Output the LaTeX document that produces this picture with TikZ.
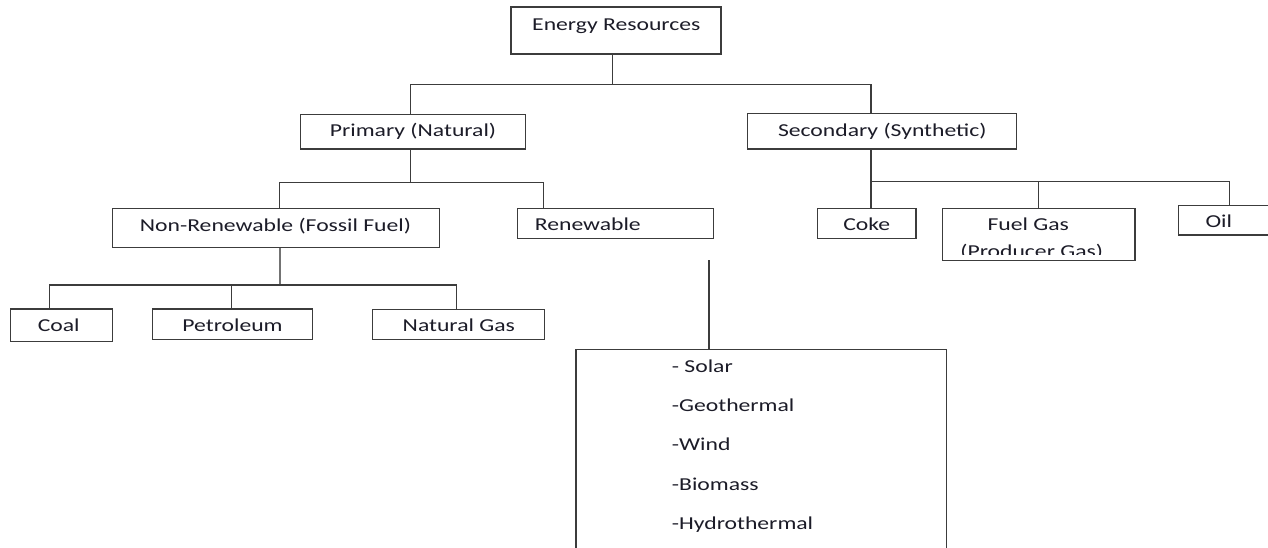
\documentclass[tikz,border=0pt]{standalone}
\usepackage{fontspec}
\setmainfont[FakeStretch=1.3]{Carlito}
\definecolor{linec}{RGB}{60,60,60}
\definecolor{txtc}{RGB}{28,28,40}
\begin{document}
\begin{tikzpicture}[x=1pt,y=-1pt,
  box/.style={draw=linec,line width=1.2pt,rectangle,inner sep=0pt},
  lbl/.style={anchor=base,inner sep=0pt,text=txtc,font=\fontsize{18.2}{20}\selectfont},
  item/.style={anchor=base west,inner sep=0pt,text=txtc,font=\fontsize{18.2}{20}\selectfont},
  conn/.style={draw=linec,line width=1.2pt}]
\clip (0,0) rectangle (1268,548);
\fill[white] (0,0) rectangle (1268,548);
% boxes
\node[box,minimum width=210pt,minimum height=47pt] (er) at (616,30.5) {};
\node[box,minimum width=225pt,minimum height=34.7pt] (pri) at (413.2,131.65) {};
\node[box,minimum width=269.4pt,minimum height=35.7pt] (sec) at (882,131.15) {};
\node[box,minimum width=327pt,minimum height=39.2pt] (nonren) at (275.8,227.9) {};
\node[box,minimum width=195.6pt,minimum height=30.4pt] (ren) at (615.5,223.5) {};
\node[box,minimum width=98.7pt,minimum height=30pt] (coke) at (866.65,223.3) {};
\node[box,minimum width=192.3pt,minimum height=52.4pt] (fuel) at (1038.85,234.5) {};
\node[box,minimum width=110pt,minimum height=29.3pt] (oil) at (1233.3,220.35) {};
\node[box,minimum width=101.6pt,minimum height=32.7pt] (coal) at (61.5,325.35) {};
\node[box,minimum width=160.2pt,minimum height=30.3pt] (pet) at (232.4,324.15) {};
\node[box,minimum width=171.6pt,minimum height=30pt] (ng) at (458.5,324.3) {};
\node[box,minimum width=370.7pt,minimum height=250pt] (list) at (761.35,474.3) {};
% labels
\node[lbl] (erT) at (616.3,30.7) {Energy Resources};
\node[lbl] (priT) at (413,136.7) {Primary (Natural)};
\node[lbl] (secT) at (882.3,136.2) {Secondary (Synthetic)};
\node[lbl] (nonrenT) at (275.5,231.2) {Non-Renewable (Fossil Fuel)};
\node[lbl] (renT) at (587.8,230.7) {Renewable};
\node[lbl] (cokeT) at (866.7,230.2) {Coke};
\node[lbl] (fuelT) at (1028.3,230.2) {Fuel Gas};
\begin{scope}
\clip (942,208) rectangle (1136,254);
\node[lbl] (fuelT2) at (1031.7,257) {(Producer Gas)};
\end{scope}
\node[lbl] (oilT) at (1218.8,227.5) {Oil};
\node[lbl] (coalT) at (58.7,331.7) {Coal};
\node[lbl] (petT) at (232.5,331.7) {Petroleum};
\node[lbl] (ngT) at (458.8,331.7) {Natural Gas};
\node[item] (i1) at (671.7,372.7) {- Solar};
\node[item] (i2) at (671.7,411.7) {-Geothermal};
\node[item] (i3) at (671.7,450.9) {-Wind};
\node[item] (i4) at (671.7,490.1) {-Biomass};
\node[item] (i5) at (671.7,529.3) {-Hydrothermal};
% bus coordinates
\coordinate (t0) at (612.7,84.3);
\coordinate (tl) at (410.3,84.3);
\coordinate (tr) at (871,84.3);
\coordinate (pc) at (410.3,182.3);
\coordinate (pl) at (279.3,182.3);
\coordinate (pr) at (543.7,182.3);
\coordinate (sc) at (871,181.5);
\coordinate (sm) at (1038.7,181.5);
\coordinate (sr) at (1229.5,181.5);
\coordinate (nc) at (279.6,285);
\coordinate (nl) at (49.5,285);
\coordinate (nm) at (231.7,285);
\coordinate (nr) at (456.5,285);
\coordinate (rs) at (709,260);
% connectors
\draw[conn] (t0 |- er.south) -- (t0);
\draw[conn] (tl |- pri.north) -- (tl) -- (tr) -- (tr |- sec.north);
\draw[conn] (pc |- pri.south) -- (pc);
\draw[conn] (pl |- nonren.north) -- (pl) -- (pr) -- (pr |- ren.north);
\draw[conn] (sc |- sec.south) -- (sc |- coke.north);
\draw[conn] (sc) -- (sr) -- (sr |- oil.north);
\draw[conn] (sm) -- (sm |- fuel.north);
\draw[conn,draw=gray!90!black,line width=2.2pt] (nc |- nonren.south) -- (nc);
\draw[conn] (nl |- coal.north) -- (nl) -- (nr) -- (nr |- ng.north);
\draw[conn] (nm) -- (nm |- pet.north);
\draw[conn] (rs) -- (rs |- list.north);
\end{tikzpicture}
\end{document}
